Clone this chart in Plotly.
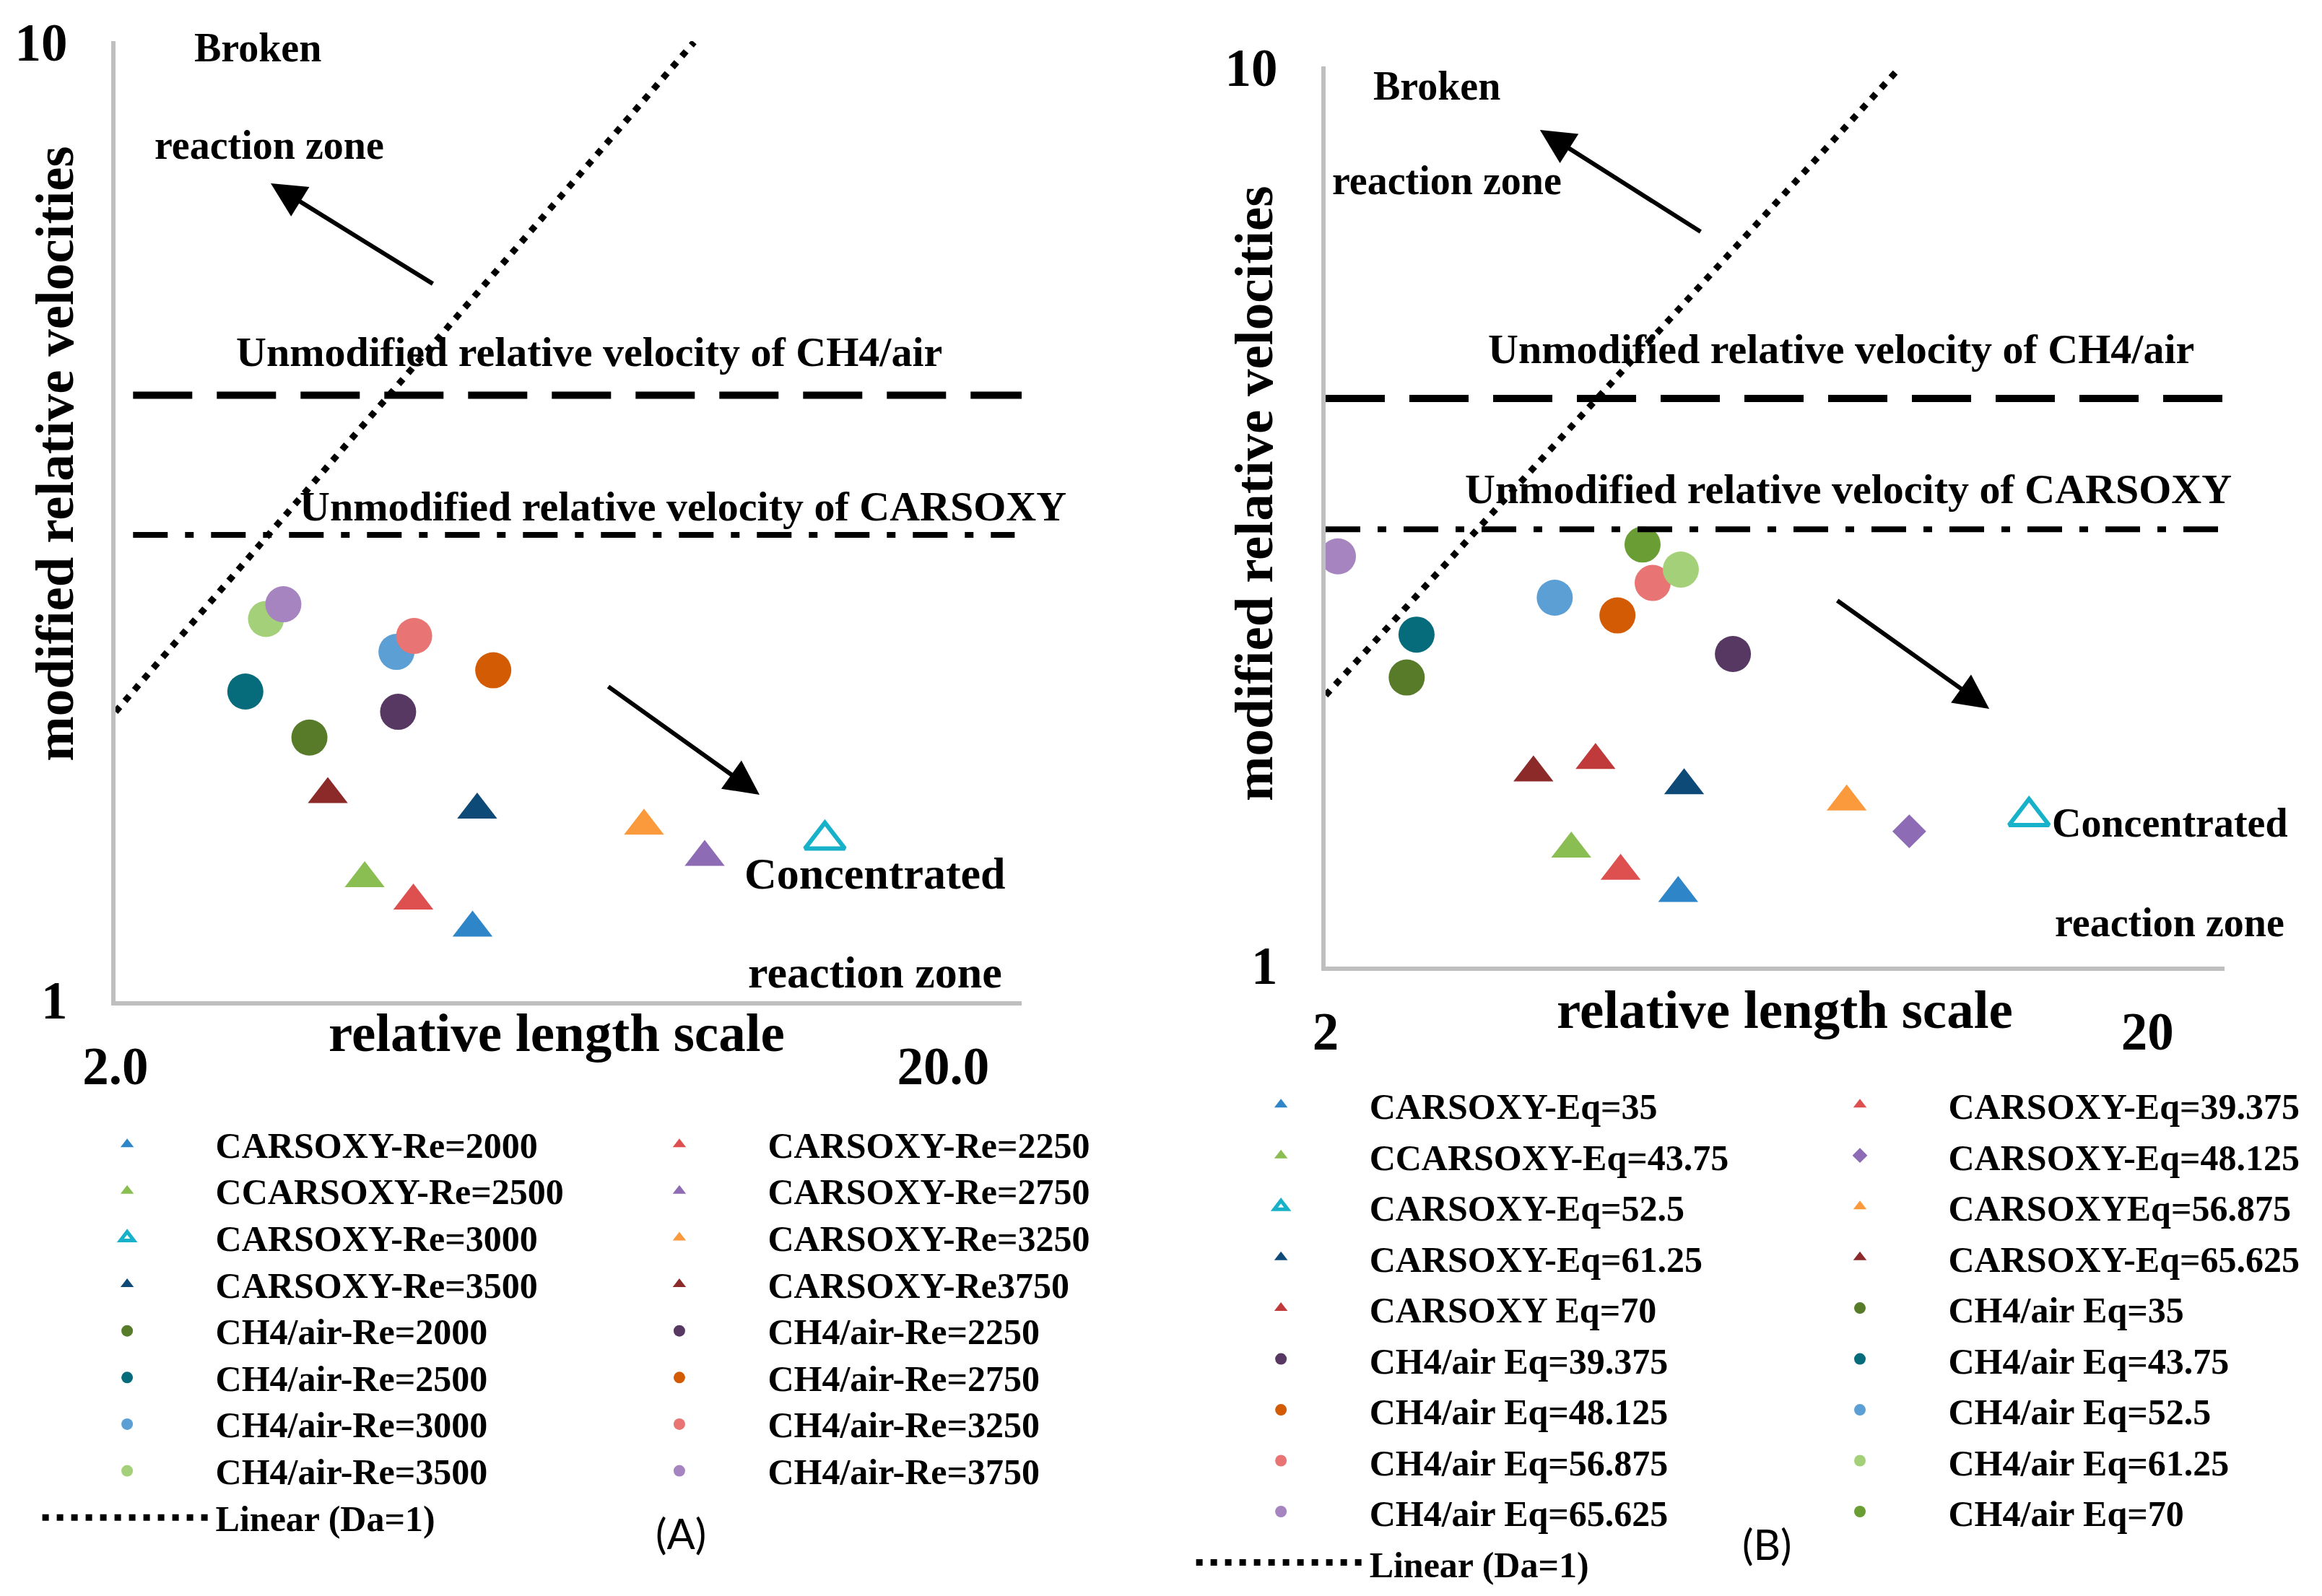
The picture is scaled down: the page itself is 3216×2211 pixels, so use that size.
import numpy as np
import plotly.graph_objects as go

W, H = 3216, 2211
SERIF = "Liberation Serif"
# the page body adds an 8px offset; compensate so the picture lands where the reference has it
OFF = 8
DX = OFF / W
DY = OFF / H

# ---------------- data: panel (A) ----------------
names_A = ["CARSOXY-Re=2000", "CARSOXY-Re=2250", "CCARSOXY-Re=2500", "CARSOXY-Re=2750",
           "CARSOXY-Re=3000", "CARSOXY-Re=3250", "CARSOXY-Re=3500", "CARSOXY-Re3750",
           "CH4/air-Re=2000", "CH4/air-Re=2250", "CH4/air-Re=2500", "CH4/air-Re=2750",
           "CH4/air-Re=3000", "CH4/air-Re=3250", "CH4/air-Re=3500", "CH4/air-Re=3750"]
x_A = [5.40, 4.58, 4.00, 10.30, 14.39, 8.70, 5.47, 3.61,
       3.43, 4.39, 2.87, 5.72, 4.37, 4.59, 3.04, 3.19]
y_A = [1.19, 1.27, 1.34, 1.41, 1.47, 1.52, 1.58, 1.64,
       1.88, 2.00, 2.10, 2.21, 2.31, 2.40, 2.50, 2.59]
sym_A = ["triangle-up"] * 4 + ["triangle-up-open"] + ["triangle-up"] * 3 + ["circle"] * 8
col_A = ["#2E86C8", "#DE4F4F", "#8BBE52", "#8E6BB5", "#17B2C9", "#FA9A3C", "#0E4A78", "#8C2A2A",
         "#587B2A", "#563863", "#066C7B", "#D25B03", "#5B9FD4", "#E87474", "#A4D07A", "#A584BF"]

# ---------------- data: panel (B) ----------------
names_B = ["CARSOXY-Eq=35", "CARSOXY-Eq=39.375", "CCARSOXY-Eq=43.75", "CARSOXY-Eq=48.125",
           "CARSOXY-Eq=52.5", "CARSOXYEq=56.875", "CARSOXY-Eq=61.25", "CARSOXY-Eq=65.625",
           "CARSOXY Eq=70", "CH4/air Eq=35", "CH4/air Eq=39.375", "CH4/air Eq=43.75",
           "CH4/air Eq=48.125", "CH4/air Eq=52.5", "CH4/air Eq=56.875", "CH4/air Eq=61.25",
           "CH4/air Eq=65.625", "CH4/air Eq=70"]
x_B = [5.37, 4.57, 3.98, 10.26, 14.35, 8.61, 5.46, 3.58, 4.26,
       2.51, 6.26, 2.58, 4.53, 3.80, 5.00, 5.41, 2.07, 4.86]
y_B = [1.204, 1.274, 1.349, 1.411, 1.466, 1.522, 1.587, 1.640, 1.693,
       2.093, 2.223, 2.336, 2.454, 2.568, 2.667, 2.760, 2.855, 2.943]
sym_B = ["triangle-up", "triangle-up", "triangle-up", "diamond", "triangle-up-open",
         "triangle-up", "triangle-up", "triangle-up", "triangle-up"] + ["circle"] * 9
col_B = ["#2E86C8", "#DE4F4F", "#8BBE52", "#8E6BB5", "#17B2C9", "#FA9A3C", "#0E4A78", "#8C2A2A",
         "#C0393B", "#587B2A", "#563863", "#066C7B", "#D25B03", "#5B9FD4", "#E87474", "#A4D07A",
         "#A584BF", "#6A9E34"]

# reference lines
da1_x = [2, 10]                      # Linear (Da=1): y = x
unmod_ch4 = 4.28
unmod_carsoxy = 3.06
ch4_span_A = [2.10, 24.9]
cars_span_A = [2.10, 24.4]
ch4_span_B = [2.0, 24.8]
cars_span_B = [2.0, 24.8]

# ticks
xtick_vals = [2, 20]
xtick_A = ["2.0", "20.0"]
xtick_B = ["2", "20"]
ytick_vals = [1, 10]
ytick_text = ["1", "10"]

fig = go.Figure()


def marker_size(sym):
    if sym == "circle":
        return 50
    if sym == "diamond":
        return 36
    return 48


def add_panel(names, xs, ys, syms, cols, xa, ya, leg_l, leg_r, spans):
    for i, (n, xv, yv, s, c) in enumerate(zip(names, xs, ys, syms, cols)):
        is_open = s.endswith("-open")
        fig.add_trace(go.Scatter(
            x=[xv], y=[yv], mode="markers", xaxis=xa, yaxis=ya,
            name=f"<span style='font-size:50px'>{n}</span>",
            legend=leg_l if i % 2 == 0 else leg_r,
            marker=dict(symbol=s, size=marker_size(s), color=c,
                        line=dict(width=6 if is_open else 0, color=c)),
        ))
    fig.add_trace(go.Scatter(
        x=da1_x, y=da1_x, mode="lines", xaxis=xa, yaxis=ya,
        name="<span style='font-size:50px'>Linear (Da=1)</span>", legend=leg_l,
        line=dict(color="black", width=9, dash="9px,11px"),
    ))
    ch4_span, cars_span = spans
    fig.add_trace(go.Scatter(
        x=ch4_span, y=[unmod_ch4] * 2, mode="lines", xaxis=xa, yaxis=ya, showlegend=False,
        line=dict(color="black", width=10, dash="82px,34px"),
    ))
    fig.add_trace(go.Scatter(
        x=cars_span, y=[unmod_carsoxy] * 2, mode="lines", xaxis=xa, yaxis=ya, showlegend=False,
        line=dict(color="black", width=8, dash="48px,24px,12px,24px"),
    ))


add_panel(names_A, x_A, y_A, sym_A, col_A, "x", "y", "legend", "legend2", (ch4_span_A, cars_span_A))
add_panel(names_B, x_B, y_B, sym_B, col_B, "x2", "y2", "legend3", "legend4", (ch4_span_B, cars_span_B))

tickfont = dict(family=SERIF, size=73, color="black", weight="bold")
axis_common = dict(type="log", showline=True, linecolor="#BFBFBF", linewidth=6, mirror=False,
                   showgrid=False, zeroline=False, ticks="", tickfont=tickfont, fixedrange=True,
                   automargin=False)


def xdom(a, b):
    return [a - DX, b - DX]


def ydom(a, b):
    return [a + DY, b + DY]


fig.update_layout(
    template="none",
    width=W, height=H, autosize=False,
    margin=dict(l=0, r=0, t=0, b=0, autoexpand=False),
    paper_bgcolor="white", plot_bgcolor="white",
    xaxis=dict(axis_common, domain=xdom(0.04975, 0.44000), range=[np.log10(2), np.log10(2) + 1.0948],
               tickvals=xtick_vals, ticktext=xtick_A, ticklabelstandoff=21, anchor="y"),
    yaxis=dict(axis_common, domain=ydom(0.37268, 0.97422), range=[-0.001, 1.001],
               tickvals=ytick_vals, ticktext=ytick_text, ticklabelstandoff=46, anchor="x"),
    xaxis2=dict(axis_common, domain=xdom(0.57090, 0.95802), range=[np.log10(2), np.log10(2) + 1.0937],
                tickvals=xtick_vals, ticktext=xtick_B, ticklabelstandoff=21, anchor="y2"),
    yaxis2=dict(axis_common, domain=ydom(0.39439, 0.95839), range=[-0.001, 1.001],
                tickvals=ytick_vals, ticktext=ytick_text, ticklabelstandoff=46, anchor="x2"),
)

leg_common = dict(orientation="v", xanchor="left", yanchor="top", bgcolor="rgba(0,0,0,0)",
                  borderwidth=0, itemwidth=235, tracegroupgap=0, traceorder="normal")
fontA = dict(family=SERIF, size=47.4, color="black", weight="bold")
fontB = dict(family=SERIF, size=51.9, color="black", weight="bold")
fig.update_layout(
    legend=dict(leg_common, x=0.01418, y=0.30352, font=fontA),
    legend2=dict(leg_common, x=0.2520, y=0.30352, font=fontA),
    legend3=dict(leg_common, x=0.51108, y=0.32972, font=fontB),
    legend4=dict(leg_common, x=0.76042, y=0.32972, font=fontB),
)


def txt(x, y, s, size, angle=0, family=SERIF, weight="bold"):
    fig.add_annotation(x=x - DX, y=y + DY, xref="paper", yref="paper", text=s, showarrow=False,
                       textangle=angle, xanchor="center", yanchor="middle",
                       font=dict(family=family, size=size, color="black", weight=weight))


def arrow(x, y, ax, ay):
    fig.add_annotation(x=x - DX, y=y + DY, xref="paper", yref="paper", ax=ax, ay=ay, text="",
                       showarrow=True, arrowhead=2, arrowwidth=6, arrowsize=1.6,
                       arrowcolor="black", standoff=0)


# panel A texts
txt(0.1110, 0.9701, "Broken", 56)
txt(0.1160, 0.9091, "reaction zone", 56)
txt(0.2537, 0.7793, "Unmodified relative velocity of CH4/air", 58)
txt(0.2942, 0.6829, "Unmodified relative velocity of CARSOXY", 58)
txt(0.3769, 0.4527, "Concentrated", 62)
txt(0.3769, 0.3908, "reaction zone", 62)
txt(0.2397, 0.3532, "relative length scale", 75)
txt(0.0236, 0.7160, "modified relative velocities", 75, angle=-90)
txt(0.2932, 0.0398, "(A)", 58, family="Lato", weight="normal")
arrow(0.1166, 0.8851, 226, 140)
arrow(0.3271, 0.5020, -211, -151)

# panel B texts
txt(0.6188, 0.9462, "Broken", 56)
txt(0.6231, 0.8869, "reaction zone", 56)
txt(0.7929, 0.7811, "Unmodified relative velocity of CH4/air", 58)
txt(0.7960, 0.6938, "Unmodified relative velocity of CARSOXY", 58)
txt(0.9344, 0.4844, "Concentrated", 56)
txt(0.9344, 0.4220, "reaction zone", 56)
txt(0.7687, 0.3673, "relative length scale", 75)
txt(0.5401, 0.6911, "modified relative velocities", 75, angle=-90)
txt(0.7609, 0.0326, "(B)", 58, family="Lato", weight="normal")
arrow(0.6632, 0.9186, 224, 142)
arrow(0.8567, 0.5559, -212, -151)

fig.write_html("out.html")
